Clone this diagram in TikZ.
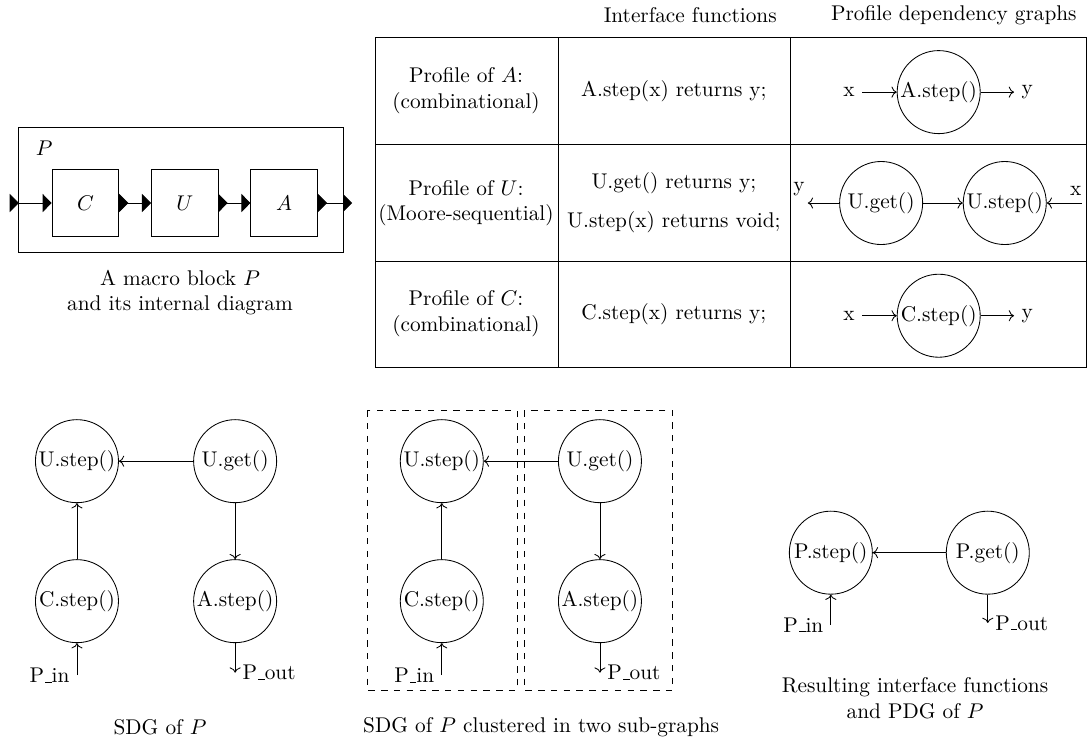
\documentclass[tikz,border=0pt]{standalone}
\usepackage{amsmath}
\usepackage{tikz}
\usetikzlibrary{arrows.meta,positioning}

\newcommand{\usc}{\leavevmode\kern.06em\vbox{\hrule width.3em}}

\tikzset{
  fn/.style={draw,circle,minimum size=1.37cm,inner sep=0pt},
  blk/.style={draw,minimum size=1.1cm},
  sig/.style={{Triangle[reversed,width=3mm,length=1.5mm]}-{Triangle[width=3mm,length=1.5mm]}},
  cluster/.style={dashed},
}

\begin{document}
\begin{tikzpicture}
\useasboundingbox (0,0) rectangle (17.97,-12.21);

% macro block P
\node[draw,minimum width=5.35cm,minimum height=2.06cm] at (2.985,-3.14) (blockP) {};
\node[] at (0.73,-2.44) (nameP) {$P$};
\node[blk] at (1.41,-3.35) (blkC) {$C$};
\node[blk] at (3.05,-3.35) (blkU) {$U$};
\node[blk] at (4.69,-3.35) (blkA) {$A$};
\coordinate (inP) at (0.16,-3.35);
\coordinate (outP) at (5.81,-3.35);

\draw[sig] (inP) -- (blkC);
\draw[sig] (blkC) -- (blkU);
\draw[sig] (blkU) -- (blkA);
\draw[sig] (blkA) -- (outP);

\node[align=center] at (2.97,-4.83) (capP) {A macro block $P$\\and its internal diagram};

% table of profiles
\draw (6.19,-0.62) rectangle (17.92,-6.07);
\draw (9.21,-0.62) -- (9.21,-6.07);
\draw (13.04,-0.62) -- (13.04,-6.07);
\draw (6.19,-2.39) -- (17.92,-2.39);
\draw (6.19,-4.31) -- (17.92,-4.31);

\node[] at (11.39,-0.25) (hdIf) {Interface functions};
\node[] at (15.74,-0.25) (hdPdg) {Profile dependency graphs};

\node[align=center] at (7.69,-1.50) (profA) {Profile of $A$:\\(combinational)};
\node[align=center] at (7.69,-3.35) (profU) {Profile of $U$:\\(Moore-sequential)};
\node[align=center] at (7.69,-5.18) (profC) {Profile of $C$:\\(combinational)};

\node[] at (11.12,-1.50) (ifA) {A.step(x) returns y;};
\node[] at (11.12,-3.02) (ifUget) {U.get() returns y;};
\node[] at (11.12,-3.66) (ifUstep) {U.step(x) returns void;};
\node[] at (11.12,-5.18) (ifC) {C.step(x) returns y;};

\node[fn] at (15.49,-1.52) (astepT) {A.step()};
\node[] at (14.01,-1.52) (xA) {x};
\node[] at (16.95,-1.52) (yA) {y};
\draw[->] (xA) -- (astepT);
\draw[->] (astepT) -- (yA);

\node[fn] at (14.54,-3.35) (ugetT) {U.get()};
\node[fn] at (16.58,-3.35) (ustepT) {U.step()};
\coordinate (yU) at (13.33,-3.35);
\coordinate (xU) at (17.85,-3.35);
\draw[->] (ugetT) -- (ustepT);
\draw[->] (ugetT) -- (yU) node[above left,xshift=2pt] {y};
\draw[->] (xU) node[above,xshift=-1mm] {x} -- (ustepT);

\node[fn] at (15.49,-5.21) (cstepT) {C.step()};
\node[] at (14.01,-5.21) (xC) {x};
\node[] at (16.95,-5.21) (yC) {y};
\draw[->] (xC) -- (cstepT);
\draw[->] (cstepT) -- (yC);

% SDG of P
\node[fn] at (1.27,-7.61) (ustepL) {U.step()};
\node[fn] at (3.88,-7.61) (ugetL) {U.get()};
\node[fn] at (1.27,-9.92) (cstepL) {C.step()};
\node[fn] at (3.88,-9.92) (astepL) {A.step()};
\coordinate (inL) at (1.27,-11.14);
\coordinate (outL) at (3.88,-11.10);
\draw[->] (ugetL) -- (ustepL);
\draw[->] (cstepL) -- (ustepL);
\draw[->] (ugetL) -- (astepL);
\draw[->] (inL) node[left] {P\usc in} -- (cstepL);
\draw[->] (astepL) -- (outL) node[right] {P\usc out};
\node[] at (2.64,-12.0) (capL) {SDG of $P$};

% SDG of P, two clusters
\draw[cluster] (6.06,-6.77) rectangle (8.53,-11.39);
\draw[cluster] (8.65,-6.77) rectangle (11.10,-11.39);
\node[fn] at (7.29,-7.61) (ustepM) {U.step()};
\node[fn] at (9.90,-7.61) (ugetM) {U.get()};
\node[fn] at (7.29,-9.92) (cstepM) {C.step()};
\node[fn] at (9.90,-9.92) (astepM) {A.step()};
\coordinate (inM) at (7.29,-11.14);
\coordinate (outM) at (9.90,-11.10);
\draw[->] (ugetM) -- (ustepM);
\draw[->] (cstepM) -- (ustepM);
\draw[->] (ugetM) -- (astepM);
\draw[->] (inM) node[left] {P\usc in} -- (cstepM);
\draw[->] (astepM) -- (outM) node[right] {P\usc out};
\node[] at (8.93,-12.0) (capM) {SDG of $P$ clustered in two sub-graphs};

% resulting PDG
\node[fn] at (13.71,-9.12) (pstepR) {P.step()};
\node[fn] at (16.30,-9.12) (pgetR) {P.get()};
\coordinate (inR) at (13.71,-10.31);
\coordinate (outR) at (16.30,-10.28);
\draw[->] (pgetR) -- (pstepR);
\draw[->] (inR) node[left] {P\usc in} -- (pstepR);
\draw[->] (pgetR) -- (outR) node[right] {P\usc out};
\node[align=center] at (15.10,-11.52) (capR) {Resulting interface functions\\and PDG of $P$};

\end{tikzpicture}
\end{document}
